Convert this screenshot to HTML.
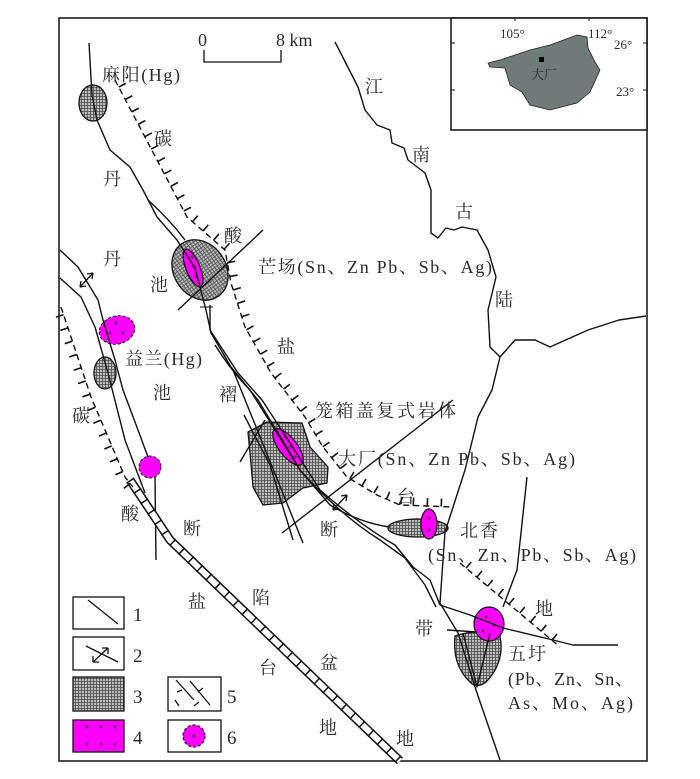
<!DOCTYPE html>
<html><head><meta charset="utf-8">
<style>
html,body{margin:0;padding:0;background:#fff;}
svg{display:block;}
text{font-family:"Liberation Serif","Noto Serif CJK SC",serif;fill:#2a2a2a;}
</style></head>
<body>
<svg id="m" width="700" height="779" viewBox="0 0 700 779" xmlns="http://www.w3.org/2000/svg">
<defs>
<pattern id="h" width="3" height="3" patternUnits="userSpaceOnUse">
<rect width="3" height="3" fill="#bdbdbd"/>
<path d="M0,0.5H3M0.5,0V3" stroke="#4a4a4a" stroke-width="0.8"/>
</pattern>
</defs>
<rect width="700" height="779" fill="#fff"/>
<rect x="59" y="18" width="588" height="743" fill="none" stroke="#111" stroke-width="1.5"/>
<rect x="451" y="18" width="196" height="112" fill="#fff" stroke="#111" stroke-width="1.5"/>
<path d="M488,63 L500,60 L530,50 L550,45 L577,35 L587,37 L588,48 L595,62 L600,70 L590,92 L577,103 L550,110 L530,105 L522,92 L510,85 L505,68 L490,67 Z" fill="#6e7b79" stroke="#222" stroke-width="0.8"/>
<rect x="539" y="57" width="5" height="5" fill="#000"/>
<text x="531" y="79" font-size="13">大厂</text>
<text x="500" y="38" font-size="13">105°</text>
<text x="588" y="38" font-size="13">112°</text>
<text x="614" y="49" font-size="13">26°</text>
<text x="616" y="96" font-size="13">23°</text>
<path d="M451,43h4M451,90h4M643,43h4M643,90h4M515,18v3M589,18v3" stroke="#111" stroke-width="1"/>

<path d="M204,50V62H281V50" fill="none" stroke="#111" stroke-width="1.3"/>
<text x="198" y="46" font-size="18">0</text>
<text x="276" y="46" font-size="18">8 km</text>

<ellipse cx="93" cy="103" rx="14" ry="18" fill="url(#h)" stroke="#111" stroke-width="1.3"/>
<ellipse cx="200" cy="270" rx="26" ry="32" transform="rotate(-35 200 270)" fill="url(#h)" stroke="#111" stroke-width="1.3"/>
<ellipse cx="193" cy="268" rx="7" ry="20" transform="rotate(-22 193 268)" fill="#f0f" stroke="#111" stroke-width="1.2"/>
<ellipse cx="105" cy="373" rx="11" ry="16" fill="url(#h)" stroke="#111" stroke-width="1.3"/>
<ellipse cx="117" cy="330" rx="18" ry="14" transform="rotate(-15 117 330)" fill="#f0f" stroke="#111" stroke-width="1" stroke-dasharray="3,2"/>
<circle cx="150" cy="467" r="11" fill="#f0f" stroke="#111" stroke-width="1" stroke-dasharray="3,2"/>
<path d="M248,432 L267,422 L302,423 L310,447 L328,467 L327,483 L303,488 L283,503 L263,505 L253,487 L250,453 Z" fill="url(#h)" stroke="#111" stroke-width="1.3" stroke-linejoin="round"/>
<ellipse cx="288" cy="447" rx="9" ry="22" transform="rotate(-38 288 447)" fill="#f0f" stroke="#111" stroke-width="1.2"/>
<ellipse cx="418" cy="528" rx="30" ry="9" fill="url(#h)" stroke="#111" stroke-width="1.3"/>
<ellipse cx="429" cy="524" rx="8" ry="15" fill="#f0f" stroke="#111" stroke-width="1.2"/>
<path d="M455,636 Q478,628 500,636 Q505,660 488,680 Q478,690 470,682 Q452,665 455,636 Z" fill="url(#h)" stroke="#111" stroke-width="1.3"/>
<ellipse cx="489" cy="624" rx="15" ry="17" fill="#f0f" stroke="#111" stroke-width="1.2"/>

<g stroke="#333" stroke-width="0.8">
<path d="M190,257h4M192,255v4M192,267h4M194,265v4M194,277h4M196,275v4"/>
<path d="M283,437h4M285,435v4M288,447h4M290,445v4M293,457h4M295,455v4"/>
<path d="M427,518h4M429,516v4M427,530h4M429,528v4"/>
<path d="M484,617h4M486,615v4M492,625h4M494,623v4M481,631h4M483,629v4"/>
<path d="M114,323h4M116,321v4M108,333h4M110,331v4M121,333h4M123,331v4"/>
</g>

<g fill="none" stroke="#111" stroke-width="1.4" stroke-linejoin="round">
<path d="M89,43 L92,95 L97,120 L110,150 L130,167 L143,190 L157,217 L177,240 L195,268 L206,310 L211,333 L231,367 L258,400 L278,433 L300,470 L330,505 Q360,523 390,527"/>
<path d="M148,200 Q170,220 185,240"/>
<path d="M210,305 L210,330 L238,373 L262,400 L288,440 L320,490 Q360,525 395,545 L413,567 L430,580 L440,605 L470,615 L503,628 L553,640 L573,645 L618,645"/>
<path d="M215,345 Q232,372 250,390 L300,470 Q340,515 380,540 L405,558 L425,585 L436,607"/>
<path d="M178,310 L263,230"/>
<path d="M200,307h13" stroke-width="1"/>
<path d="M233,370 L303,543"/>
<path d="M282,533 L453,400"/>
<path d="M240,462 L265,420"/>
<path d="M244,415 L270,465 L293,540"/>
<path d="M60,250 L78,267 L98,300 L103,320 L115,360 L123,390 L138,430 L148,457"/>
<path d="M155,477 L156,560"/>
<path d="M60,278 L81,297 L95,327 L108,373 L125,440 L145,493"/>
<path d="M335,42 L358,87 L365,110 L377,125 L390,130 L392,143 L404,148 L408,160 L425,173 L431,190 L431,233 L438,238 L446,228 L454,230 L462,227 L477,230 L488,250 L496,277 L488,310 L490,347 L500,357 L515,340 L535,340 L550,347 L588,330 L619,320 L646,316"/>
<path d="M500,357 L492,390 L478,417 L465,470 L445,532 L440,603 L458,633 L477,693 L500,760"/>
<path d="M527,477 L517,570 L503,607"/>
<path d="M447,630 L477,632"/>
<path d="M463,633 L477,687 L490,633"/>
</g>
<g stroke="#111" stroke-width="1.3" fill="none">
<path d="M80,287 L93,273 M80,287 l1,-6 M80,287 l6,-1 M93,273 l-1,6 M93,273 l-6,1"/>
<path d="M333,510 L347,495 M333,510 l1,-6 M333,510 l6,-1 M347,495 l-1,6 M347,495 l-6,1"/>
</g>
<g fill="none">
<path d="M130,480 L148,507 L170,540 L400,761" stroke="#111" stroke-width="9"/>
<path d="M130,480 L148,507 L170,540 L400,761" stroke="#fff" stroke-width="6"/>
<path d="M130,480 L148,507 L170,540 L400,761" stroke="#111" stroke-width="9" stroke-dasharray="1.5,11"/>
</g>
<g fill="none" stroke="#111" stroke-width="1.4" stroke-dasharray="6,4" id="tf">
<path class="t" data-s="1" d="M115,80 L187,217 L225,250 L231,283 L245,327 L271,373 L305,417 L323,447 L347,477 L377,495 L400,505 L453,507"/>
<path class="t" data-s="-1" d="M61,307 L91,397 L125,477 L133,487"/>
<path class="t" data-s="1" d="M460,563 L560,647"/>
</g>
<g id="ticks" stroke="#111" stroke-width="1.6"></g>

<g stroke="#111" stroke-width="1.3" fill="#fff">
<rect x="73" y="597" width="51" height="32"/>
<rect x="73" y="637" width="51" height="33"/>
<rect x="73" y="677" width="51" height="34" fill="url(#h)"/>
<rect x="73" y="720" width="51" height="32" fill="#f0f"/>
<rect x="168" y="677" width="53" height="34"/>
<rect x="168" y="720" width="53" height="32"/>
</g>
<g stroke="#111" stroke-width="1.3" fill="none">
<path d="M88,600 L118,624"/>
<path d="M86,646 L118,662 M93,662 L108,648 M108,648 l-6,0 M108,648 l0,6 M93,662 l6,0 M93,662 l0,-6"/>
<path d="M176,680 l18,20 M182,690 l-5,2 M190,681 l20,24 M198,692 l5,-4 M175,700 l4,6 M194,706 l5,-4"/>
</g>
<circle cx="194" cy="736" r="11" fill="#f0f" stroke="#111" stroke-width="1.2" stroke-dasharray="3,2"/>
<path d="M192,736h4M194,734v4" stroke="#333" stroke-width="0.8"/>
<g stroke="#333" stroke-width="0.8">
<path d="M85,727h4M87,725v4M99,727h4M101,725v4M113,727h4M115,725v4M85,744h4M87,742v4M99,744h4M101,742v4M113,744h4M115,742v4"/>
</g>
<g font-size="19">
<text x="133" y="621">1</text>
<text x="133" y="662">2</text>
<text x="133" y="703">3</text>
<text x="133" y="744">4</text>
<text x="227" y="703">5</text>
<text x="227" y="744">6</text>
</g>

<g font-size="18">
<text x="102" y="81" textLength="78">麻阳(Hg)</text>
<text x="154" y="145">碳</text>
<text x="103" y="185">丹</text>
<text x="224" y="242">酸</text>
<text x="103" y="265">丹</text>
<text x="150" y="291">池</text>
<text x="258" y="273" textLength="234">芒场(Sn、Zn Pb、Sb、Ag)</text>
<text x="277" y="353">盐</text>
<text x="125" y="365" textLength="77">益兰(Hg)</text>
<text x="153" y="399">池</text>
<text x="219" y="401">褶</text>
<text x="72" y="422">碳</text>
<text x="315" y="417" textLength="141">笼箱盖复式岩体</text>
<text x="338" y="465" textLength="237">大厂(Sn、Zn Pb、Sb、Ag)</text>
<text x="397" y="503">台</text>
<text x="121" y="520">酸</text>
<text x="183" y="535">断</text>
<text x="320" y="536">断</text>
<text x="460" y="537" textLength="38">北香</text>
<text x="428" y="561" textLength="208">(Sn、Zn、Pb、Sb、Ag)</text>
<text x="365" y="93">江</text>
<text x="412" y="161">南</text>
<text x="455" y="218">古</text>
<text x="495" y="306">陆</text>
<text x="188" y="608">盐</text>
<text x="252" y="604">陷</text>
<text x="535" y="615">地</text>
<text x="415" y="635">带</text>
<text x="508" y="660" textLength="38">五圩</text>
<text x="259" y="674">台</text>
<text x="320" y="669">盆</text>
<text x="508" y="685" textLength="125">(Pb、Zn、Sn、</text>
<text x="508" y="709" textLength="125">As、Mo、Ag)</text>
<text x="319" y="734">地</text>
<text x="396" y="745">地</text>
</g>
</svg>
<script>
(function(){
var ns="http://www.w3.org/2000/svg",g=document.getElementById("ticks");
document.querySelectorAll("#tf path.t").forEach(function(p){
var sg=parseFloat(p.getAttribute("data-s"));
var L=p.getTotalLength();
for(var s=8;s<L;s+=14){
var a=p.getPointAtLength(s),b=p.getPointAtLength(Math.min(L,s+0.5));
var dx=b.x-a.x,dy=b.y-a.y,n=Math.hypot(dx,dy)||1;
var nx=dy/n*sg,ny=-dx/n*sg;
var l=document.createElementNS(ns,"line");
l.setAttribute("x1",a.x);l.setAttribute("y1",a.y);
l.setAttribute("x2",a.x+nx*8);l.setAttribute("y2",a.y+ny*8);
g.appendChild(l);}
});
})();
</script>
</body></html>
